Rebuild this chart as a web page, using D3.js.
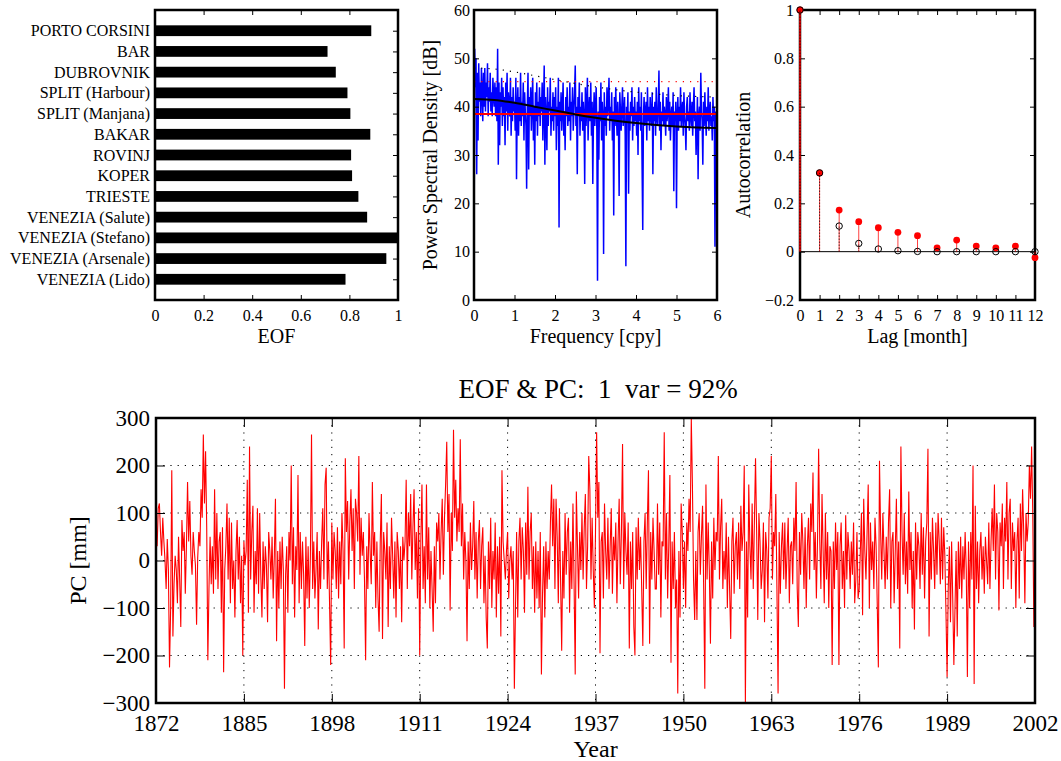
<!DOCTYPE html>
<html>
<head>
<meta charset="utf-8">
<script src="https://cdn.jsdelivr.net/npm/d3@7"></script>
<style>
  body { margin: 0; background: #fff; }
  svg { display: block; }
</style>
</head>
<body>
<script>
// ---- data ----
const stations = ['PORTO CORSINI', 'BAR', 'DUBROVNIK', 'SPLIT (Harbour)', 'SPLIT (Manjana)', 'BAKAR',
  'ROVINJ', 'KOPER', 'TRIESTE', 'VENEZIA (Salute)', 'VENEZIA (Stefano)', 'VENEZIA (Arsenale)', 'VENEZIA (Lido)']
const eofValues = [0.89, 0.71, 0.744, 0.792, 0.804, 0.886, 0.807, 0.811, 0.837, 0.873, 1.0, 0.952, 0.784]

// periodogram, one value every 1/60 cpy from 0 to 6
const psdStep = 1 / 60
const psdValues = [
  5.5, 52, 44, 50, 26, 47, 33, 49, 41, 45, 38, 48, 43, 37, 47, 40, 48, 39, 45, 42,
  49, 38, 44, 41, 47, 39, 43, 38, 46, 42, 40, 45, 38, 44, 37, 52, 28, 45, 32, 43,
  40, 46, 36, 44, 38, 42, 32, 45, 39, 47, 35, 43, 40, 38, 46, 34, 42, 37, 44, 39,
  41, 35, 46, 25, 40, 44, 34, 42, 37, 47, 36, 41, 38, 45, 33, 43, 39, 36, 23, 40,
  47, 27, 42, 38, 44, 35, 41, 46, 33, 40, 28, 43, 37, 45, 34, 41, 38, 44, 36, 42,
  39, 45, 33, 40, 48.5, 28, 42, 38, 31, 44, 36, 41, 39, 46, 34, 40, 37, 43, 35, 42,
  38, 44, 31, 40, 36, 46, 15, 41, 37, 43, 35, 40, 45, 34, 39, 31, 42, 38, 44, 36,
  40, 37, 45, 33, 41, 38, 44, 35, 39, 43, 48.5, 36, 40, 26, 42, 38, 45, 34, 40, 37,
  43, 35, 41, 38, 24, 44, 36, 40, 46, 33, 39, 42, 37, 45, 34, 41, 24, 38, 43, 36,
  40, 44, 35, 4, 39, 29, 42, 37, 45, 33, 41, 38, 9.5, 43, 36, 40, 34, 44, 38, 41,
  46, 35, 40, 37, 43, 33, 39, 17.5, 42, 36, 44, 38, 34, 41, 37, 21.5, 43, 39, 35, 40,
  44, 36, 38, 42, 34, 7, 40, 37, 43, 22, 39, 35, 41, 38, 44, 33, 40, 36, 42, 37,
  39, 34, 41, 30, 44, 37, 40, 35, 43, 28, 14.5, 38, 42, 36, 39, 41, 33, 44, 37, 40,
  35, 42, 38, 36, 43, 26, 40, 37, 41, 34, 44, 38, 36, 40, 47.5, 35, 41, 31, 39, 37,
  43, 36, 40, 38, 34, 42, 37, 39, 44, 35, 41, 33, 38, 40, 36, 43, 22.5, 39, 37, 41,
  19, 38, 42, 35, 40, 37, 44, 36, 39, 41, 34, 43, 38, 36, 31, 40, 42, 37, 39, 35,
  43, 38, 36, 41, 34, 40, 44, 37, 39, 30, 36, 42, 25, 38, 40, 35, 47, 39, 37, 28,
  41, 36, 43, 38, 34, 40, 37, 44, 35, 39, 41, 36, 38, 33, 42, 37, 40, 11, 39, 25,
  38
]
const ar1Freq = [0, 0.5, 1, 1.5, 2, 2.5, 3, 3.5, 4, 4.5, 5, 5.5, 6]
const ar1Psd = [41.6, 41.4, 40.8, 40.0, 39.2, 38.4, 37.7, 37.1, 36.6, 36.2, 35.9, 35.7, 35.6]
const ar1Conf = [48.0, 47.8, 47.2, 46.4, 45.6, 44.8, 44.1, 43.5, 43.0, 42.6, 42.3, 42.1, 42.0]
const psdMean = 38.5
const psdMeanConf = 45.2

const lags = [0, 1, 2, 3, 4, 5, 6, 7, 8, 9, 10, 11, 12]
const acfSample = [1, 0.326, 0.172, 0.124, 0.099, 0.08, 0.066, 0.016, 0.048, 0.023, 0.016, 0.023, -0.025]
const acfAr1 = [1, 0.326, 0.106, 0.034, 0.011, 0.004, 0.001, 0, 0, 0, 0, 0, 0]

// PC 1, six values per year from 1872
const pcStart = 1872
const pcPerYear = 6
const pcValues = [
  80, 30, 110, 120, 60, 10,  90, 40, 0, -60, 45, -20,  -225, -100, 190, -160, -50, 10,
  -20, -90, 50, -40, -140, 85,  20, 60, -70, 30, 165, 40,  125, 10, -30, 60, 20, -10,
  -135, 5, 60, 30, 150, 90,  265, 120, 230, 70, -210, -60,  50, -50, 30, -70, 150, -40,
  100, -60, 40, 60, -110, 70,  -235, -20, 30, 120, -40, 90,  -90, 80, -60, 0, -120, 20,
  85, -40, 50, -90, 10, -200,  40, -10, 20, 170, -110, 240,  -40, 60, 115, -110, 20, -50,
  110, -70, 100, -30, -120, 40,  -60, 30, -10, -130, 60, 20,  -40, 50, -80, 10, 130, -170,
  20, -100, 40, -60, 50, -20,  -270, -30, 30, -110, 60, 0,  200, -50, 70, -120, 30, -20,
  180, -90, 60, -60, 40, -30,  -180, 50, -80, 30, -100, 10,  265, -60, 40, -80, -20, 60,
  -145, 20, -60, 40, 110, -40,  160, 195, -60, 40, -90, -220,  80, -40, 60, 20, -60, 70,
  -80, 40, -50, 100, 20, -185,  215, 60, 125, -40, 80, 150,  20, 110, -60, 130, 100, 40,
  220, -30, 90, 10, 60, -40,  -210, 30, -60, 100, 20, -50,  165, 10, 60, -100, 40, -80,
  -150, 40, 140, -165, 60, 20,  -40, 80, -140, 30, -60, 90,  10, -80, 40, -120, 60, 20,
  -60, 30, -130, 50, 0, 40,  170, -60, 100, 30, 140, -40,  70, 150, -20, 60, -80, 110,
  -200, 40, 160, -60, 30, -90,  160, -40, 70, -100, 20, -60,  -150, 30, -90, 80, 40, 100,
  -40, 60, 130, -30, 90, 160,  250, 60, 140, -105, 100, 20,  275, 90, 170, 40, 110, 60,
  255, 30, 120, -40, 60, 0,  -170, 40, -60, 80, -20, 30,  125, -40, 60, -80, 40, 85,
  -60, 30, 70, -90, 10, -120,  -185, 40, -60, 90, -100, 20,  -40, 80, -120, 30, -70, 50,
  -160, 190, 40, 0, -40, 20,  60, -80, 0, 30, -40, 20,  -270, -100, 60, -120, 40, 90,
  -40, 70, 20, -110, 80, -30,  155, -40, 60, 100, -60, 30,  -110, 40, -80, 20, -100, 60,
  -240, -70, 30, -120, 40, -60,  20, -40, 80, 160, 30, 130,  -60, 130, 50, -90, 110, -40,
  -190, 20, -80, 100, -30, 60,  90, -110, 40, -60, 120, -50,  -240, 145, 30, -80, 60, -20,
  100, -40, 70, 140, -60, 30,  220, 150, -40, 90, -20, -100,  60, 270, 90, 165, -195, 40,
  60, -80, 120, 20, -40, 90,  -60, 30, 110, -70, 50, 0,  80, -90, 40, 130, -50, 60,
  245, -60, 100, 20, -30, 80,  -185, 40, -60, 60, -140, -200,  70, -40, 90, -20, 50, -60,
  -180, 40, 100, -60, 80, 190,  -175, 60, -40, 90, 20, -60,  -60, 120, -30, 80, -120, 40,
  30, 270, -40, 100, -80, 30,  180, -215, 40, -60, 60, -100,  -40, -280, 20, -120, 120, 60,
  -60, 40, -100, 80, 20, 130,  60, 300, 160, -40, -125, 20,  -125, 60, 100, -30, 50, 115,
  -60, -270, 160, -40, 80, -20,  -175, 40, -80, 90, -20, 60,  40, 220, -40, 70, 130, -60,
  20, -40, 80, -100, 50, -60,  -165, 40, 90, -70, 30, 60,  -40, 80, -60, 115, 20, 60,
  200, -300, 40, -120, 160, 30,  -40, 120, -60, 80, 215, 60,  -125, 100, 40, -60, -20, 80,
  -130, 60, 20, -80, 90, 110,  220, -40, 60, 30, 140, -60,  -280, 60, -70, 30, 80, -40,
  80, -60, 20, 90, -90, 30,  40, -50, 90, 20, 165, -60,  -140, 60, -30, 100, 40, -60,
  70, -100, 30, 90, -40, 120,  60, 185, -20, 60, -80, 40,  235, 40, -60, 140, 20, -90,
  100, -40, 60, -100, 30, 20,  -220, 40, -60, 80, -20, 60,  -220, 30, 80, -60, 20, -100,
  95, -40, 60, 20, -60, 40,  -30, 80, -90, -40, 60, -80,  -60, 20, 100, -115, 130, 20,
  -40, 60, 160, -100, 80, -20,  40, -60, 90, 30, -90, -225,  210, 60, -40, 100, 20, -60,
  50, -40, 80, 150, -100, 40,  60, -90, 20, 130, -60, 40,  -185, 240, 60, -30, 100, -50,
  40, -70, 145, -20, 60, -100,  20, -145, 80, -40, 60, 30,  -60, 100, -30, 70, -80, 40,
  80, 235, -160, 60, -40, 90,  20, -60, 80, -30, 100, 40,  -50, 90, -40, 70, 10, -110,
  -245, -60, 30, -130, 40, -80,  -220, -100, 20, -160, 40, -60,  50, -80, 30, -40, 60, -20,
  -245, 40, -100, 60, -40, 200,  -260, 115, -60, 40, -90, 20,  60, -40, 30, -70, 50, 0,
  -50, 80, -60, 40, 110, 20,  160, -40, 100, 60, -105, 80,  30, 120, -60, 90, 40, 165,
  -40, 100, 130, -60, 80, 20,  60, -100, 40, 90, -80, 120,  20, 150, 60, -90, 100, 40,
  80, 200, 130, 240, 100, -140
]
const yearTicks = [1872, 1885, 1898, 1911, 1924, 1937, 1950, 1963, 1976, 1989, 2002]
const pcTicks = [-300, -200, -100, 0, 100, 200, 300]
const pcGrid = [-200, -100, 0, 100, 200]
const title = 'EOF & PC:  1  var = 92%'

// ---- layout ----
const FONT = '"Liberation Serif", "Times New Roman", serif'
const pEof = { x0: 155, x1: 398, y0: 10, y1: 300 }
const pPsd = { x0: 474, x1: 717, y0: 10, y1: 300 }
const pAcf = { x0: 800, x1: 1035, y0: 10, y1: 300 }
const pPc = { x0: 156, x1: 1035, y0: 418, y1: 703 }

const svg = d3.select('body').append('svg')
  .attr('width', 1061)
  .attr('height', 761)
  .attr('font-family', FONT)

function frame(p) {
  svg.append('rect')
    .attr('x', p.x0).attr('y', p.y0)
    .attr('width', p.x1 - p.x0).attr('height', p.y1 - p.y0)
    .attr('fill', 'none')
    .attr('stroke', '#000')
    .attr('stroke-width', 2.5)
}

function axes(p, x, y, o) {
  const g = svg.append('g')
  g.append('g').attr('transform', `translate(0,${p.y1})`)
    .call(d3.axisBottom(x).tickValues(o.xTicks).tickFormat(o.xFormat).tickSize(-o.tick).tickPadding(o.xPad))
  g.append('g').attr('transform', `translate(0,${p.y0})`)
    .call(d3.axisTop(x).tickValues(o.xTicks).tickFormat('').tickSize(-o.tick))
  g.append('g').attr('transform', `translate(${p.x0},0)`)
    .call(d3.axisLeft(y).tickValues(o.yTicks).tickFormat(o.yFormat).tickSize(-o.tick).tickPadding(o.yPad))
  g.append('g').attr('transform', `translate(${p.x1},0)`)
    .call(d3.axisRight(y).tickValues(o.yTicks).tickFormat('').tickSize(-o.tick))
  g.selectAll('.domain').remove()
  g.selectAll('g').attr('font-family', FONT).attr('font-size', o.font)
  g.selectAll('.tick line').attr('stroke', '#000').attr('stroke-width', 1)
  g.selectAll('.tick text').attr('fill', '#000')
}

function label(txt, x, y, size, rotate) {
  svg.append('text')
    .attr('transform', `translate(${x},${y})` + (rotate ? ' rotate(-90)' : ''))
    .attr('text-anchor', 'middle')
    .attr('font-size', size)
    .style('white-space', 'pre')
    .text(txt)
}

function clip(id, p) {
  svg.append('clipPath').attr('id', id)
    .append('rect')
    .attr('x', p.x0).attr('y', p.y0)
    .attr('width', p.x1 - p.x0).attr('height', p.y1 - p.y0)
}

const fmt = d3.format('~g')

// ---- EOF bars ----
{
  const x = d3.scaleLinear().domain([0, 1]).range([pEof.x0, pEof.x1])
  const y = d3.scaleLinear().domain([0, 14]).range([pEof.y1, pEof.y0])
  const n = stations.length
  const bh = (y(0) - y(0.52))
  svg.append('g')
    .selectAll('rect')
    .data(eofValues)
    .enter()
    .append('rect')
    .attr('x', x(0))
    .attr('y', (d, i) => y(n - i) - bh / 2)
    .attr('width', d => x(d) - x(0))
    .attr('height', bh)
    .attr('fill', '#000')
  axes(pEof, x, y, {
    xTicks: [0, 0.2, 0.4, 0.6, 0.8, 1], xFormat: fmt, xPad: 10,
    yTicks: d3.range(1, n + 1), yFormat: d => stations[n - d], yPad: 5,
    tick: 5, font: 16
  })
  frame(pEof)
  label('EOF', (pEof.x0 + pEof.x1) / 2, 343, 20)
}

// ---- power spectrum ----
{
  const x = d3.scaleLinear().domain([0, 6]).range([pPsd.x0, pPsd.x1])
  const y = d3.scaleLinear().domain([0, 60]).range([pPsd.y1, pPsd.y0])
  clip('clipPsd', pPsd)
  const g = svg.append('g').attr('clip-path', 'url(#clipPsd)')
  g.append('path')
    .datum(psdValues)
    .attr('d', d3.line().x((d, i) => x(i * psdStep)).y(d => y(d)))
    .attr('fill', 'none')
    .attr('stroke', '#0000ff')
    .attr('stroke-width', 1.5)
  g.append('line')
    .attr('x1', x(0)).attr('x2', x(6))
    .attr('y1', y(psdMean)).attr('y2', y(psdMean))
    .attr('stroke', '#ff0000').attr('stroke-width', 2)
  g.append('line')
    .attr('x1', x(0)).attr('x2', x(6))
    .attr('y1', y(psdMeanConf)).attr('y2', y(psdMeanConf))
    .attr('stroke', '#ff0000').attr('stroke-width', 1.2)
    .attr('stroke-dasharray', '1.2,6')
  const smooth = d3.line().x((d, i) => x(ar1Freq[i])).y(d => y(d)).curve(d3.curveMonotoneX)
  g.append('path')
    .datum(ar1Psd)
    .attr('d', smooth)
    .attr('fill', 'none')
    .attr('stroke', '#000')
    .attr('stroke-width', 2)
  g.append('path')
    .datum(ar1Conf)
    .attr('d', smooth)
    .attr('fill', 'none')
    .attr('stroke', '#000')
    .attr('stroke-width', 1.2)
    .attr('stroke-dasharray', '1.2,6')
  axes(pPsd, x, y, {
    xTicks: d3.range(0, 7), xFormat: fmt, xPad: 10,
    yTicks: d3.range(0, 70, 10), yFormat: fmt, yPad: 4,
    tick: 5, font: 16
  })
  frame(pPsd)
  label('Frequency [cpy]', (pPsd.x0 + pPsd.x1) / 2, 343, 20)
  label('Power Spectral Density [dB]', 437, (pPsd.y0 + pPsd.y1) / 2, 20, true)
}

// ---- autocorrelation ----
{
  const x = d3.scaleLinear().domain([0, 12]).range([pAcf.x0, pAcf.x1])
  const y = d3.scaleLinear().domain([-0.2, 1]).range([pAcf.y1, pAcf.y0])
  axes(pAcf, x, y, {
    xTicks: lags, xFormat: fmt, xPad: 10,
    yTicks: [-0.2, 0, 0.2, 0.4, 0.6, 0.8, 1], yFormat: fmt, yPad: 6,
    tick: 5, font: 16
  })
  frame(pAcf)
  svg.append('line')
    .attr('x1', x(0)).attr('x2', x(12))
    .attr('y1', y(0)).attr('y2', y(0))
    .attr('stroke', '#000').attr('stroke-width', 1)
  svg.append('g')
    .selectAll('line')
    .data(acfSample)
    .enter()
    .append('line')
    .attr('x1', (d, i) => x(lags[i])).attr('x2', (d, i) => x(lags[i]))
    .attr('y1', y(0)).attr('y2', d => y(d))
    .attr('stroke', '#ff0000')
    .attr('stroke-width', (d, i) => i === 0 ? 1.6 : 1)
    .attr('stroke-opacity', (d, i) => i === 0 ? 1 : 0.75)
  svg.append('g')
    .selectAll('circle')
    .data(acfSample)
    .enter()
    .append('circle')
    .attr('cx', (d, i) => x(lags[i]))
    .attr('cy', d => y(d))
    .attr('r', 3.4)
    .attr('fill', '#ff0000')
  svg.append('g')
    .selectAll('line')
    .data(acfAr1)
    .enter()
    .append('line')
    .attr('x1', (d, i) => x(lags[i])).attr('x2', (d, i) => x(lags[i]))
    .attr('y1', y(0)).attr('y2', d => y(d))
    .attr('stroke', '#000')
    .attr('stroke-width', 1)
    .attr('stroke-dasharray', '1,2')
  svg.append('g')
    .selectAll('circle')
    .data(acfAr1)
    .enter()
    .append('circle')
    .attr('cx', (d, i) => x(lags[i]))
    .attr('cy', d => y(d))
    .attr('r', 3.2)
    .attr('fill', 'none')
    .attr('stroke', '#000')
    .attr('stroke-width', 1)
  label('Lag [month]', (pAcf.x0 + pAcf.x1) / 2, 343, 20)
  label('Autocorrelation', 750, (pAcf.y0 + pAcf.y1) / 2, 20, true)
}

// ---- principal component ----
{
  const x = d3.scaleLinear().domain([1872, 2002]).range([pPc.x0, pPc.x1])
  const y = d3.scaleLinear().domain([-300, 300]).range([pPc.y1, pPc.y0])
  const grid = svg.append('g')
    .attr('stroke', '#000')
    .attr('stroke-width', 1)
    .attr('stroke-dasharray', '1.2,6')
  grid.selectAll('.gy')
    .data(pcGrid)
    .enter()
    .append('line')
    .attr('x1', pPc.x0).attr('x2', pPc.x1)
    .attr('y1', d => y(d)).attr('y2', d => y(d))
  grid.selectAll('.gx')
    .data(yearTicks.slice(1, -1))
    .enter()
    .append('line')
    .attr('x1', d => x(d)).attr('x2', d => x(d))
    .attr('y1', pPc.y0).attr('y2', pPc.y1)
  clip('clipPc', pPc)
  svg.append('path')
    .attr('clip-path', 'url(#clipPc)')
    .datum(pcValues)
    .attr('d', d3.line().x((d, i) => x(pcStart + i / pcPerYear)).y(d => y(d)))
    .attr('fill', 'none')
    .attr('stroke', '#ff0000')
    .attr('stroke-width', 1.1)
  axes(pPc, x, y, {
    xTicks: yearTicks, xFormat: d3.format('d'), xPad: 12,
    yTicks: pcTicks, yFormat: d3.format('d'), yPad: 6,
    tick: 9, font: 23
  })
  frame(pPc)
  label('Year', (pPc.x0 + pPc.x1) / 2, 757, 24)
  label('PC [mm]', 86, (pPc.y0 + pPc.y1) / 2, 24, true)
  label(title, 598, 398, 27)
}
</script>
</body>
</html>
